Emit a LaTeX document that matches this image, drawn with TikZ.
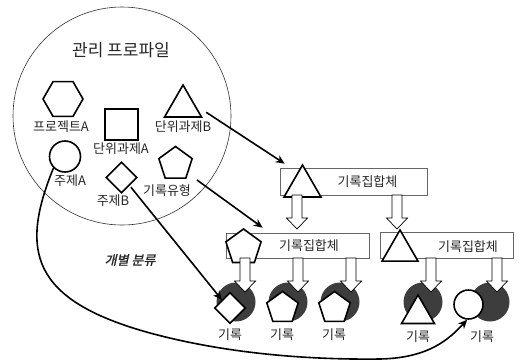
\documentclass[tikz,border=0pt]{standalone}
\usepackage{fontspec}
\setmainfont{Noto Sans CJK KR}
\newfontfamily\kobi[FakeSlant=0.22,FakeBold=1.5]{Noto Sans CJK KR}
\usetikzlibrary{shapes.geometric,arrows.meta,calc}
\begin{document}
\begin{tikzpicture}[x=1pt,y=-1pt,
  shp/.style={draw=black, line width=1.6pt, fill=white, inner sep=0pt},
  lbl/.style={font=\fontsize{13}{14}\selectfont, text=black!85, inner sep=0pt},
  boxst/.style={draw=black!60, line width=0.7pt, fill=white, inner sep=0pt},
  shadowc/.style={circle, fill=black!76, minimum size=39pt, inner sep=0pt},
  arr/.style={line width=1.6pt, -{Stealth[length=9pt,width=8pt]}},
  tri/.style={shp, regular polygon, regular polygon sides=3},
  pent/.style={shp, regular polygon, regular polygon sides=5},
  pics/harrow/.style={code={\draw[line width=0.7pt, fill=white] (-5,0) -- (5,0) -- (5,23) -- (10.5,23) -- (0,34) -- (-10.5,23) -- (-5,23) -- cycle;}}
]
\useasboundingbox (0,0) rectangle (519,360);

% profile circle
\node[circle, draw=black!80, line width=0.6pt, minimum size=218pt, inner sep=0pt] (prof) at (122,116) {};
\node[font=\fontsize{17}{18}\selectfont, text=black!85, inner sep=0pt] (title) at (121,50) {관리 프로파일};

% shapes in the profile
\node[shp, regular polygon, regular polygon sides=6, minimum size=40pt] (hexA) at (63,99) {};
\node[lbl] (lhexA) at (61,127) {프로젝트A};
\node[shp, rectangle, minimum width=33pt, minimum height=31pt] (sqA) at (121.5,124.5) {};
\node[lbl] (lsqA) at (121,149) {단위과제A};
\node[tri, minimum size=42.6pt] (tB) at (183,106.3) {};
\node[lbl] (ltB) at (183,127) {단위과제B};
\node[shp, circle, minimum size=31pt] (cA) at (65,156.5) {};
\node[lbl] (lcA) at (70,181) {주제A};
\node[shp, diamond, minimum width=31pt, minimum height=31pt] (dB) at (121.5,177.5) {};
\node[lbl] (ldB) at (113,201) {주제B};
\node[pent, minimum size=35pt] (pR) at (175.5,164) {};
\node[lbl] (lpR) at (167,191) {기록유형};

% aggregation boxes
\node[boxst, minimum width=147pt, minimum height=27pt] (b1) at (353.5,181.5) {};
\node[lbl] (lb1) at (367.5,182) {기록집합체};
\node[tri, minimum size=42.6pt] (t1) at (302.5,186.3) {};

\node[boxst, minimum width=143pt, minimum height=25pt] (b2) at (297.5,245.5) {};
\node[lbl] (lb2) at (309,246) {기록집합체};
\node[pent, minimum size=37pt] (p2) at (243.5,247.5) {};

\node[boxst, minimum width=133pt, minimum height=26pt] (b3) at (446.5,245) {};
\node[lbl] (lb3) at (468,247) {기록집합체};

% hollow arrows from box 1
\pic at (297,195) {harrow};
\pic at (397,195) {harrow};
\node[tri, minimum size=41.4pt] (t3) at (400,250.7) {};

% record shadows
\node[shadowc] (s1) at (236,302) {};
\node[shadowc] (s2) at (288,302) {};
\node[shadowc] (s3) at (340,302) {};
\node[shadowc] (s4) at (423,302) {};
\node[shadowc] (s5) at (490,302) {};

% hollow arrows from boxes 2 and 3
\pic at (245,258) {harrow};
\pic at (298,258) {harrow};
\pic at (351,258) {harrow};
\pic at (431,258) {harrow};
\pic at (497,258) {harrow};

% records
\node[shp, diamond, minimum width=31pt, minimum height=31pt] (r1) at (230,308) {};
\node[pent, minimum size=33pt] (r2) at (282.5,308) {};
\node[pent, minimum size=33pt] (r3) at (334.5,308) {};
\node[tri, minimum size=38pt] (r4) at (418,314) {};
\node[shp, circle, minimum size=29pt] (r5) at (468.5,304.5) {};
\node[lbl] (lr1) at (230,335) {기록};
\node[lbl] (lr2) at (282,335) {기록};
\node[lbl] (lr3) at (334,335) {기록};
\node[lbl] (lr4) at (418,337) {기록};
\node[lbl] (lr5) at (482,337) {기록};

\node[font=\kobi\fontsize{13}{14}\selectfont, text=black!85, inner sep=0pt] (cls) at (130,260) {개별 분류};

% connectors
\draw[arr] ($(tB.east)+(10,6)$) -- ($(b1.north west)+(5,-4)$);
\draw[arr] ($(pR.center)+(21.5,16)$) -- ($(b2.north west)+(37,-5)$);
\draw[arr, shorten <=2pt] (dB.south east) -- (r1.north west);
\draw[arr] (cA.225) .. controls (20,250) and (30,300) .. (150,333)
  .. controls (220,352) and (300,360) .. (380,359)
  .. controls (430,358) and (450,338) .. (r5.265);
\end{tikzpicture}
\end{document}
